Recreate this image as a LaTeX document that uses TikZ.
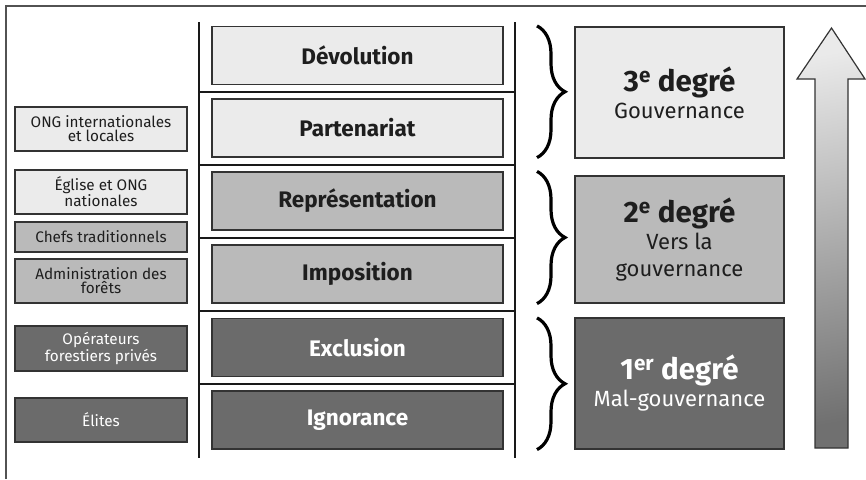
\documentclass[tikz,border=0pt]{standalone}
\usepackage{fontspec}
\setmainfont{Fira Sans}
\usetikzlibrary{decorations.pathreplacing}

\definecolor{palegr}{HTML}{EBEBEB}
\definecolor{midgr}{HTML}{BABABA}
\definecolor{darkgr}{HTML}{6B6B6B}
\definecolor{edgegr}{HTML}{333333}
\definecolor{inkgr}{HTML}{1E1E1E}
\definecolor{arrowtop}{HTML}{EAEAEA}
\definecolor{arrowbot}{HTML}{707070}

\newcommand{\bigdeg}{\fontsize{29.5}{30}\selectfont\bfseries}

\tikzset{
  actor/.style={draw=edgegr, line width=1.2pt, minimum width=172pt, inner sep=0pt,
    align=center, font=\fontsize{15.3}{14}\selectfont, text=inkgr},
  stage/.style={draw=edgegr, line width=1.2pt, minimum width=291pt, minimum height=58pt,
    inner sep=0pt, font=\fontsize{22.5}{24}\selectfont\bfseries, text=inkgr},
  degree/.style={draw=edgegr, line width=1.2pt, minimum width=209pt, inner sep=0pt,
    align=center, font=\fontsize{22}{27}\selectfont, text=inkgr},
  palefill/.style={fill=palegr},
  midfill/.style={fill=midgr},
  darkfill/.style={fill=darkgr, text=white},
  rail/.style={line width=2.5pt, black!90},
  bracket/.style={decorate, decoration={brace, amplitude=28pt}, line width=3.2pt}
}

\begin{document}
\begin{tikzpicture}[x=1pt, y=-1pt]
            \useasboundingbox (0,0) rectangle (866,479);
            % Frame
            \draw[edgegr!85, line width=1.5pt] (6,479) -- (6,6) -- (866,6);

            % Stages
            \node[stage, palefill] (devolution) at (357.5,55.5) {Dévolution};
            \node[stage, palefill] (partenariat) at (357.5,128) {Partenariat};
            \node[stage, midfill] (representation) at (357.5,201) {Représentation};
            \node[stage, midfill] (imposition) at (357.5,274) {Imposition};
            \node[stage, darkfill] (exclusion) at (357.5,347.5) {Exclusion};
            \node[stage, darkfill] (ignorance) at (357.5,420) {Ignorance};

            \draw[rail] (199,22) -- (199,458);
            \draw[rail] (515,22) -- (515,458);
            \foreach \y in {92,165,238,311,384}{
            \draw[rail] (199,\y) -- (515,\y);
            }

            % Actors
            \node[actor, palefill, minimum height=44pt] (ong) at (101,129) {ONG internationales\\et locales};
            \node[actor, palefill, minimum height=44pt] (eglise) at (101,192) {Église et ONG\\nationales};
            \node[actor, midfill, minimum height=30pt] (chefs) at (101,237) {Chefs traditionnels};
            \node[actor, midfill, minimum height=44pt] (admin) at (101,281) {Administration des\\forêts};
            \node[actor, darkfill, minimum height=45pt] (operateurs) at (101,348.5) {Opérateurs\\forestiers privés};
            \node[actor, darkfill, minimum height=44pt] (elites) at (101,420) {Élites};

            % Degrees
            \coordinate (bx) at (537,0);
            \draw[bracket] (devolution.north -| bx) -- (partenariat.south -| bx);
            \draw[bracket] (representation.north -| bx) -- (imposition.south -| bx);
            \draw[bracket] (exclusion.north -| bx) -- (ignorance.south -| bx);

            \node[degree, palefill, minimum height=131pt] (troisieme) at (679.5,92.5) {{\bigdeg 3\textsuperscript{e} degré}\\Gouvernance};
            \node[degree, midfill, minimum height=127pt] (deuxieme) at (679.5,239.5) {{\bigdeg 2\textsuperscript{e} degré}\\Vers la\\gouvernance};
            \node[degree, darkfill, minimum height=131pt] (premier) at (679.5,383.5) {{\bigdeg 1\textsuperscript{er} degré}\\Mal-gouvernance};

            % Arrow
            \shadedraw[top color=arrowtop, bottom color=arrowbot, shading angle=10, draw=edgegr, line width=1.2pt]
              (815,448) -- (815,79) -- (797,79) -- (831.5,28) -- (865,79) -- (848,79) -- (848,448) -- cycle;

            \end{tikzpicture}
\end{document}
